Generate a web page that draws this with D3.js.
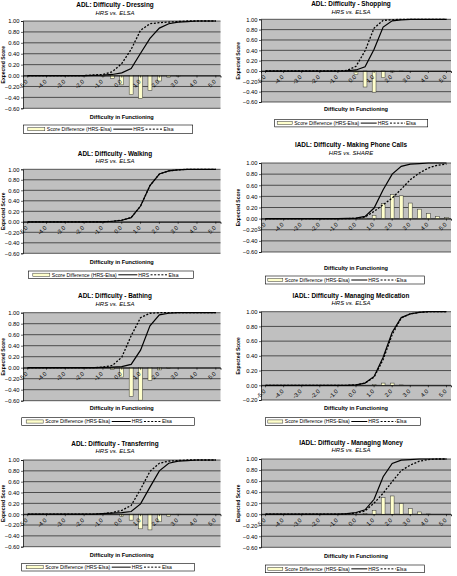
<!DOCTYPE html>
<html><head><meta charset="utf-8">
<script src="https://cdn.jsdelivr.net/npm/d3@7"></script>
<style>
body{margin:0;background:#fff}
svg{display:block}
text{font-family:"Liberation Sans",Arial,sans-serif;fill:#000}
</style>
</head><body>
<svg id="c" width="457" height="576"></svg>
<script>
// ---------- data ----------
const categories = ["-5.0","-4.5","-4.0","-3.5","-3.0","-2.5","-2.0","-1.5","-1.0","-0.5","0.0","0.5","1.0","1.5","2.0","2.5","3.0","3.5","4.0","4.5","5.0"];
const xTickLabels = ["-5.0","-4.0","-3.0","-2.0","-1.0","0.0","1.0","2.0","3.0","4.0","5.0"];
const yTicksFull = [-0.6,-0.4,-0.2,0,0.2,0.4,0.6,0.8,1.0];
const yTicksShort = [-0.2,0,0.2,0.4,0.6,0.8,1.0];
const seriesNames = ["Score Difference (HRS-Elsa)","HRS","Elsa"];
const xAxisTitle = "Difficulty in Functioning";
const yAxisTitle = "Expected Score";

const titles = ["ADL: Difficulty - Dressing","ADL: Difficulty - Shopping","ADL: Difficulty - Walking","IADL: Difficulty - Making Phone Calls","ADL: Difficulty - Bathing","IADL: Difficulty - Managing Medication","ADL: Difficulty - Transferring","IADL: Difficulty - Managing Money"];
const subtitles = ["HRS vs. ELSA","HRS vs. ELSA","HRS vs. ELSA","HRS vs. SHARE","HRS vs. ELSA","HRS vs. ELSA","HRS vs. ELSA","HRS vs. ELSA"];

const dressingHRS  = [0,0,0,0,0,0,0,0.005,0.01,0.02,0.05,0.13,0.41,0.68,0.87,0.95,0.98,0.99,1,1,1];
const dressingElsa = [0,0,0,0,0,0,0,0.01,0.02,0.07,0.22,0.48,0.83,0.95,0.97,0.98,0.99,1,1,1,1];
const dressingDiff = [0,0,0,0,0,0,0,0,-0.01,-0.05,-0.17,-0.35,-0.42,-0.27,-0.10,-0.03,-0.01,0,0,0,0];

const shoppingHRS  = [0,0,0,0,0,0,0,0,0,0.005,0.02,0.08,0.42,0.85,0.97,0.99,1,1,1,1,1];
const shoppingElsa = [0,0,0,0,0,0,0,0,0,0.01,0.09,0.39,0.83,0.98,0.99,1,1,1,1,1,1];
const shoppingDiff = [0,0,0,0,0,0,0,0,0,0,-0.07,-0.31,-0.41,-0.13,-0.02,-0.01,0,0,0,0,0];

const walkingHRS  = [0,0,0,0,0,0,0,0,0,0.01,0.03,0.08,0.30,0.69,0.91,0.97,0.99,1,1,1,1];
const walkingElsa = [0,0,0,0,0,0,0,0,0,0.01,0.03,0.08,0.30,0.69,0.91,0.97,0.99,1,1,1,1];
const walkingDiff = [0,0,0,0,0,0,0,0,0,0,0,0,0,0,0,0,0,0,0,0,0];

const phoneHRS  = [0,0,0,0,0,0,0,0,0,0.005,0.01,0.04,0.19,0.52,0.80,0.94,0.98,0.99,1,1,1];
const phoneElsa = [0,0,0,0,0,0,0,0,0,0,0.005,0.03,0.13,0.25,0.37,0.53,0.70,0.82,0.91,0.96,0.98];
const phoneDiff = [0,0,0,0,0,0,0,0,0,0,0,0.01,0.06,0.27,0.43,0.41,0.28,0.17,0.09,0.04,0.02];

const bathingHRS  = [0,0,0,0,0,0,0,0,0.005,0.01,0.02,0.06,0.32,0.76,0.96,0.99,1,1,1,1,1];
const bathingElsa = [0,0,0,0,0,0,0,0,0.01,0.04,0.19,0.58,0.91,0.99,1,1,1,1,1,1,1];
const bathingDiff = [0,0,0,0,0,0,0,0,0,-0.03,-0.17,-0.52,-0.59,-0.23,-0.04,-0.01,0,0,0,0,0];

const medicationHRS  = [0,0,0,0,0,0,0,0,0,0,0.005,0.03,0.12,0.38,0.72,0.92,0.97,0.99,1,1,1];
const medicationElsa = [0,0,0,0,0,0,0,0,0,0,0.005,0.03,0.11,0.35,0.69,0.915,0.97,0.99,1,1,1];
const medicationDiff = [0,0,0,0,0,0,0,0,0,0,0,0,0.01,0.03,0.03,0.005,0,0,0,0,0];

const transferringHRS  = [0,0,0,0,0,0,0,0,0.01,0.02,0.03,0.05,0.19,0.50,0.80,0.94,0.98,0.99,1,1,1];
const transferringElsa = [0,0,0,0,0,0,0,0,0.01,0.03,0.07,0.16,0.46,0.79,0.94,0.98,0.99,1,1,1,1];
const transferringDiff = [0,0,0,0,0,0,0,0,0,-0.01,-0.04,-0.11,-0.27,-0.29,-0.14,-0.04,-0.01,0,0,0,0];

const moneyHRS  = [0,0,0,0,0,0,0,0,0,0.01,0.03,0.08,0.27,0.68,0.92,0.98,0.99,1,1,1,1];
const moneyElsa = [0,0,0,0,0,0,0,0,0,0.005,0.02,0.06,0.20,0.38,0.59,0.79,0.89,0.96,0.99,1,1];
const moneyDiff = [0,0,0,0,0,0,0,0,0,0,0,0.01,0.07,0.30,0.33,0.19,0.10,0.04,0.005,0,0];

// ---------- layout (positions only) ----------
const colL = {x0:23, x1:220.5, titleX:115, yTitleX:3};
const colR = {x0:261, x1:451, titleX:351, yTitleX:238.5};
const layouts = [
  {col:colL, top:21,    bottom:108.3, titleY:5,     subY:12.7,  xTitleY:116.7, lg:[23.3,125,169.4,8.3]},
  {col:colR, top:19.3,  bottom:102,   titleY:4,     subY:11.7,  xTitleY:109.3, lg:[274.7,119.3,153,7.6]},
  {col:colL, top:169.3, bottom:253.3, titleY:153.3, subY:160.7, xTitleY:261.7, lg:[28.3,271,165,7.6]},
  {col:colR, top:163,   bottom:252,   titleY:145,   subY:153.3, xTitleY:267.7, lg:[265.3,276,159.4,8]},
  {col:colL, top:312.7, bottom:400.7, titleY:296,   subY:304,   xTitleY:408.3, lg:[21.7,417.7,172.6,7.6]},
  {col:colR, top:311.7, bottom:400,   titleY:296,   subY:303.3, xTitleY:407.7, lg:[265.3,417.7,155.4,7.6]},
  {col:colL, top:460,   bottom:546.7, titleY:443.3, subY:450.7, xTitleY:555,   lg:[21.7,563.3,172.6,7.7]},
  {col:colR, top:459,   bottom:547.3, titleY:442.7, subY:450,   xTitleY:556,   lg:[265.3,565,159.4,7.7]}
];

const charts = [
  {hrs:dressingHRS, elsa:dressingElsa, diff:dressingDiff, yTicks:yTicksFull},
  {hrs:shoppingHRS, elsa:shoppingElsa, diff:shoppingDiff, yTicks:yTicksFull},
  {hrs:walkingHRS, elsa:walkingElsa, diff:walkingDiff, yTicks:yTicksFull},
  {hrs:phoneHRS, elsa:phoneElsa, diff:phoneDiff, yTicks:yTicksFull},
  {hrs:bathingHRS, elsa:bathingElsa, diff:bathingDiff, yTicks:yTicksFull},
  {hrs:medicationHRS, elsa:medicationElsa, diff:medicationDiff, yTicks:yTicksShort},
  {hrs:transferringHRS, elsa:transferringElsa, diff:transferringDiff, yTicks:yTicksFull},
  {hrs:moneyHRS, elsa:moneyElsa, diff:moneyDiff, yTicks:yTicksFull}
];

const svg = d3.select("#c");
const BAR_FILL = "#ffffcc";
const PLOT_BG = "#c0c0c0";
const DASH = "2,1.6";

function drawChart(ch, L, idx){
  const g = svg.append("g");
  const c = L.col;
  const x = d3.scaleBand().domain(categories).range([c.x0, c.x1]).paddingInner(0).paddingOuter(0);
  const bw = x.bandwidth();
  const cx = cat => x(cat) + bw/2;
  const y = d3.scaleLinear().domain([d3.min(ch.yTicks), 1]).range([L.bottom, L.top]);

  g.append("rect").attr("x", c.x0).attr("y", L.top).attr("width", c.x1 - c.x0).attr("height", L.bottom - L.top).attr("fill", PLOT_BG);
  g.selectAll("line.grid").data(ch.yTicks).enter().append("line")
    .attr("x1", c.x0).attr("x2", c.x1).attr("y1", d => y(d)).attr("y2", d => y(d))
    .attr("stroke", "#1a1a1a").attr("stroke-width", 0.7);

  const barW = bw * 0.42;
  const bars = categories.map((cat, i) => ({cat, v: ch.diff[i]})).filter(d => d.v !== 0);
  g.selectAll("rect.bar").data(bars).enter().append("rect")
    .attr("x", d => cx(d.cat) - barW/2)
    .attr("y", d => Math.min(y(0), y(d.v)))
    .attr("width", barW)
    .attr("height", d => Math.abs(y(d.v) - y(0)))
    .attr("fill", BAR_FILL).attr("stroke", "#333").attr("stroke-width", 0.5);

  const yAxis = d3.axisLeft(y).tickValues(ch.yTicks).tickSize(2).tickPadding(1.5).tickFormat(d3.format(".2f"));
  const ya = g.append("g").attr("transform", `translate(${c.x0},0)`).call(yAxis);
  ya.select(".domain").attr("stroke", "#000").attr("stroke-width", 0.7);
  ya.selectAll(".tick line").attr("stroke", "#000").attr("stroke-width", 0.6);
  ya.selectAll("text").attr("font-size", 5.8).attr("font-family", "Liberation Sans, Arial, sans-serif");

  const line = d3.line().x((d,i) => cx(categories[i])).y(d => y(d));
  g.append("path").datum(ch.hrs).attr("d", line).attr("fill", "none").attr("stroke", "#000").attr("stroke-width", 1.2);
  g.append("path").datum(ch.elsa).attr("d", line).attr("fill", "none").attr("stroke", "#000").attr("stroke-width", 1.3).attr("stroke-dasharray", DASH);

  const tickCats = categories.filter(cat => xTickLabels.includes(cat));
  const xAxis = d3.axisBottom(x).tickValues(tickCats).tickSize(2).tickFormat(d => d);
  const xa = g.append("g").attr("transform", `translate(0,${y(0)})`).call(xAxis);
  xa.select(".domain").attr("stroke", "#000").attr("stroke-width", 0.8);
  xa.selectAll(".tick line").attr("stroke", "#000").attr("stroke-width", 0.6);
  xa.selectAll("text")
    .attr("font-size", 5.8).attr("font-family", "Liberation Sans, Arial, sans-serif")
    .attr("y", 0).attr("dy", "0.35em").attr("x", 0)
    .attr("text-anchor", "end")
    .attr("transform", "translate(-1,5) rotate(-45)");

  g.append("text").attr("x", c.titleX).attr("y", L.titleY).attr("dy", "0.35em").attr("text-anchor", "middle")
    .attr("font-size", 6.4).attr("font-weight", "bold").text(titles[idx]);
  g.append("text").attr("x", c.titleX).attr("y", L.subY).attr("dy", "0.35em").attr("text-anchor", "middle")
    .attr("font-size", 6).attr("font-style", "italic").text(subtitles[idx]);
  g.append("text").attr("x", (c.x0 + c.x1)/2).attr("y", L.xTitleY).attr("dy", "0.35em").attr("text-anchor", "middle")
    .attr("font-size", 5.6).attr("font-weight", "bold").text(xAxisTitle);
  g.append("text").attr("transform", `translate(${c.yTitleX},${(L.top + L.bottom)/2}) rotate(-90)`)
    .attr("dy", "0.35em").attr("text-anchor", "middle")
    .attr("font-size", 5).attr("font-weight", "bold").text(yAxisTitle);

  // legend (items laid out sequentially from measured text widths)
  const [lx, ly, lw, lh] = L.lg;
  const lg = g.append("g");
  lg.append("rect").attr("x", lx).attr("y", ly).attr("width", lw).attr("height", lh)
    .attr("fill", "#fff").attr("stroke", "#000").attr("stroke-width", 0.6);
  const my = ly + lh/2;
  const fs = 5.1;
  const big = lw > 162;
  let px = lx + (big ? 4.5 : 2.5);
  const swW = big ? 17 : 15;
  lg.append("rect").attr("x", px).attr("y", my - 1.6).attr("width", swW).attr("height", 3.2)
    .attr("fill", BAR_FILL).attr("stroke", "#333").attr("stroke-width", 0.5);
  px += swW + 2;
  const t1 = lg.append("text").attr("x", px).attr("y", my).attr("dy", "0.35em").attr("font-size", fs).text(seriesNames[0]);
  px += t1.node().getComputedTextLength() + 1.5;
  const lnW = big ? 19 : 16;
  lg.append("line").attr("x1", px).attr("x2", px + lnW).attr("y1", my).attr("y2", my).attr("stroke", "#000").attr("stroke-width", 1);
  px += lnW + 1;
  const t2 = lg.append("text").attr("x", px).attr("y", my).attr("dy", "0.35em").attr("font-size", fs).text(seriesNames[1]);
  px += t2.node().getComputedTextLength() + 1.5;
  const dW = big ? 17 : 15;
  lg.append("line").attr("x1", px).attr("x2", px + dW).attr("y1", my).attr("y2", my).attr("stroke", "#000").attr("stroke-width", 1).attr("stroke-dasharray", DASH);
  px += dW + 1;
  lg.append("text").attr("x", px).attr("y", my).attr("dy", "0.35em").attr("font-size", fs).text(seriesNames[2]);
}

charts.forEach((ch, i) => drawChart(ch, layouts[i], i));
</script>
</body></html>
